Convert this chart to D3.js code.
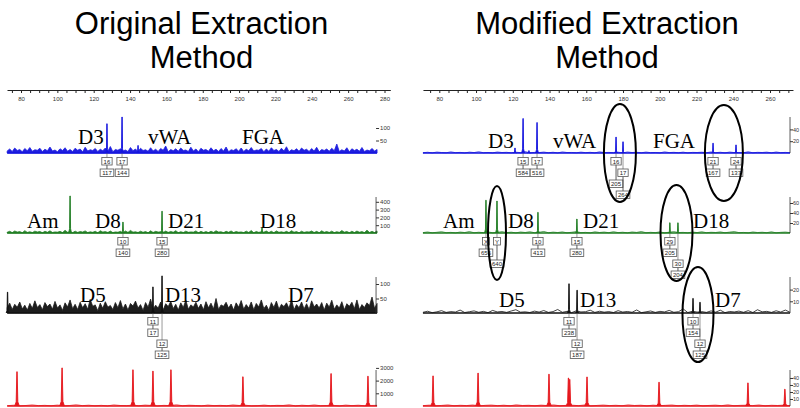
<!DOCTYPE html>
<html><head><meta charset="utf-8">
<script src="https://cdn.jsdelivr.net/npm/d3@7"></script>
<style>body{margin:0;background:#fff}svg{display:block}</style>
</head><body>
<svg id="chart" width="800" height="408"></svg>
<script>
// ---------------- DATA ----------------
const titleLeft = ["Original Extraction", "Method"];
const titleRight = ["Modified Extraction", "Method"];
const sizeLabelsLeft = [80, 100, 120, 140, 160, 180, 200, 220, 240, 260, 280];
const sizeLabelsRight = [80, 100, 120, 140, 160, 180, 200, 220, 240, 260];
const dyeNames = ["blue", "green", "black", "red"];

// peaks: [size (bp), height (RFU)]
const origBluePeaks = [[127.3, 117], [135.6, 144], [144.4, 30]];
const origGreenPeaks = [[107.0, 475], [136.1, 140], [157.6, 280], [212.6, 65]];
const origBlackPeaks = [[72.6, 72], [152.6, 90], [157.6, 128]];
const origRedPeaks = [[77.8, 2700], [102.6, 3000], [141.6, 2850], [152.6, 2750], [162.5, 2850], [202.1, 2300], [250.6, 2550], [270.9, 2350]];
const modBluePeaks = [[121.2, 85], [125.6, 584], [128.8, 40], [133.2, 516], [176.2, 270], [180.0, 190], [229.0, 167], [241.5, 137]];
const modGreenPeaks = [[105.4, 656], [111.4, 640], [133.7, 413], [154.9, 280], [205.5, 205], [209.9, 204]];
const modBlackPeaks = [[150.6, 250], [155.0, 195], [218.1, 125], [221.9, 92]];
const modRedPeaks = [[76.6, 430], [101.1, 470], [139.7, 455], [150.3, 400], [151.0, 380], [160.4, 415], [199.6, 340], [248.0, 330], [268.1, 240]];

// baseline noise (RFU)
const origBlueNoise = [8,16,6,20,10,14,5,18,9,22,7,13,11,19,6,15,9,24,8,12,5,17,10,21,7,14,6,19,11,16,5,23,8,13,10,18,6,15,9,20,7,26,5,14,11,17,8,12,6,22,9,16,5,19,10,13,7,21,8,15,6,18,11,28,5,14,9,17,7,20,10,12,6,23,8,16,5,19,11,14,7,21,9,15,6,18,8,24,5,13,10,17,7,20,6,15,9,22,8,12,11,18,5,16,7,21,10,14,6,19,8,25,5,13,9,17,7,20,11,15,6,18,8,23,5,14,10,16,7,19,9,36,6,13,8,21,5,17,10,15,7,22,6,12,9,18,8,14];
const origGreenNoise = [10,22,5,26,12,18,4,30,8,16,6,24,13,20,3,23,9,28,7,14,11,21,5,34,10,17,4,24,8,19,12,27,6,15,9,22,3,29,12,18,7,25,5,14,10,21,4,26,8,33,11,16,6,23,9,19,3,28,7,21,12,15,5,25,8,20,10,30,4,17,6,24,9,14,11,27,3,21,7,18,5,23,8,29,12,16,4,22,9,26,6,19,10,14,5,24,7,31,3,20,8,17,11,25,6,22,4,27,9,15,7,21,5,30,10,18,3,23,8,16,12,26,6,21,4,28,9,19,7,24,5,17,8,31,11,20,3,23,6,25,10,18,5,36,7,21,6,27];
const origBlackNoise = [18,34,12,30,20,38,14,27,10,33,16,42,19,29,11,36,22,31,13,40,17,28,9,35,21,45,15,30,12,37,18,32,13,47,23,28,8,34,16,39,20,26,12,36,18,43,14,31,10,33,24,41,17,29,9,36,20,48,13,27,17,38,11,32,22,40,15,30,10,35,19,44,13,28,21,37,16,31,11,39,18,34,14,50,12,28,23,37,17,31,10,35,20,43,13,29,17,38,11,33,21,45,15,27,9,36,19,41,13,30,22,35,16,47,11,29,18,38,14,32,12,42,21,31,17,36,10,34,20,44,13,28,17,39,11,32,23,37,15,45,12,29,19,35,26,55,16,33];
const origRedNoise = [20,60,10,40,80,30,50,20,70,10,40,90,30,60,20,50,10,80,40,30,60,20,70,40,10,50,30,90,20,60,40,10,70,30,50,20,80,40,60,10,30,70,20,50,40,90,10,60,30,80,20,40,50,10,70,30,60,20,40,50];
const modBlueNoise = [5,12,3,15,8,4,18,6,10,2,14,7,20,5,9,3,16,8,11,4,13,6,22,3,10,7,15,5,12,2,17,8,9,4,14,6,11,3,19,7,10,5,13,2,16,8,12,4,15,6,9,3,18,7,11,5,14,2,10,8,13,4,17,6,12,3,15,7,9,5,20,4,11,8,14,3,16,6,10,5];
const modGreenNoise = [8,20,4,14,25,6,12,3,18,9,28,5,15,7,22,4,11,26,8,16,3,19,10,24,6,13,30,5,17,9,21,4,14,27,7,12,3,23,10,18,6,25,8,15,4,20,11,29,5,13,7,22,3,16,26,9,12,4,19,8,24,6,14,10,21,5,17,28,7,11,3,20,9,15,6,23,4,13,18,8];
const modBlackNoise = [6,15,3,10,20,5,12,8,25,4,11,18,6,14,3,22,9,13,5,17,28,7,10,4,16,8,21,5,12,30,6,14,3,19,9,11,24,5,15,7,12,4,20,8,13,6,26,3,10,17,5,14,9,22,6,11,35,4,15,8,12,5,18,7,24,3,13,9,16,6,20,4,28,10,14,5,19,8,25,6];
const modRedNoise = [5,12,3,8,15,4,10,6,14,2,9,13,5,11,3,16,7,10,4,12,6,15,3,9,11,5,14,2,8,13,6,10,4,15,7,11,3,12,5,9,14,4,10,6,13,3,8,12,5,16,4,9,11,6,14,3,10,7,12,5];

// y-axis tick values (RFU) per trace, and the tick labels as printed
const origYTicks = [[50, 100], [100, 200, 300, 400], [50, 100], [1000, 2000, 3000]];
const origYTickLabels = [["50", "100"], ["100", "200", "300", "400"], ["50", "100"], ["1000", "2000", "3000"]];
const modYTicks = [[200, 400], [200, 400, 600], [100, 200], [100, 200, 300, 400]];
const modYTickLabels = [["20", "40"], ["20", "40", "60"], ["10", "20"], ["10", "20", "30", "40"]];
// y-axis maxima (RFU at 40 px above baseline)
const origYMax = [160, 513, 138, 3150];
const modYMax = [678, 800, 342, 571];

// locus names: [dye index, name, start size]
const origLoci = [[0,"D3",111.4],[0,"vWA",149.9],[0,"FGA",201.6],[1,"Am",83.3],[1,"D8",120.7],[1,"D21",160.9],[1,"D18",211.5],[2,"D5",112.5],[2,"D13",159.2],[2,"D7",226.9]];
const modLoci = [[0,"D3",106.5],[0,"vWA",141.9],[0,"FGA",196.3],[1,"Am",82.0],[1,"D8",117.4],[1,"D21",158.2],[1,"D18",218.1],[2,"D5",112.5],[2,"D13",156.6],[2,"D7",230.1]];

// allele call boxes: [dye, size, allele, height label, allele row, height row]
const origCalls = [[0,127.3,"16","117",0,1],[0,135.6,"17","144",0,1],[1,136.1,"10","140",0,1],[1,157.6,"15","280",0,1],[2,152.6,"11","17",0,1],[2,157.6,"12","125",2,3]];
const modCalls = [[0,125.6,"15","584",0,1],[0,133.2,"17","516",0,1],[0,176.2,"16","205",0,2],[0,180.0,"17","264",1,3],[0,229.0,"21","167",0,1],[0,241.5,"24","137",0,1],
  [1,105.4,"X","656",0,1],[1,111.4,"Y","640",0,2],[1,133.7,"10","413",0,1],[1,154.9,"15","280",0,1],[1,205.5,"29","205",0,1],[1,209.9,"30","204",2,3],
  [2,150.6,"11","238",0,1],[2,155.0,"12","187",2,3],[2,218.1,"10","154",0,1],[2,221.9,"12","125",2,3]];

// highlighted regions on the modified panel: [dye, centre size]
const modCircles = [[0,178.3],[0,234.9],[1,111.4],[1,209.1],[2,220.8]];

// ---------------- DRAWING ----------------
const svg = d3.select("#chart");
const colors = {blue:"#1414de", green:"#1f7d22", black:"#111111", red:"#e5161c"};
const baselines = [153, 233, 313, 406];
const labelBaselines = [[144, 228, 302], [148, 228, 306.5]];
const rowOffsets = [4.5, 16, 27, 38];
const sans = "Liberation Sans, Arial, sans-serif";

const panels = [
  {x: d3.scaleLinear().domain([80, 280]).range([21, 384.5]), ruler:[72.3, 283.2], trace:[72.4, 275.9],
   title: titleLeft, cx: 201.5, sizeLabels: sizeLabelsLeft,
   peaks:[origBluePeaks, origGreenPeaks, origBlackPeaks, origRedPeaks],
   noise:[origBlueNoise, origGreenNoise, origBlackNoise, origRedNoise],
   yTicks: origYTicks, yLabels: origYTickLabels, yMax: origYMax, loci: origLoci, calls: origCalls, circles: [], lab: labelBaselines[0]},
  {x: d3.scaleLinear().domain([80, 260]).range([439.3, 770]), ruler:[71.1, 272.5], trace:[71.1, 270.9],
   title: titleRight, cx: 607, sizeLabels: sizeLabelsRight,
   peaks:[modBluePeaks, modGreenPeaks, modBlackPeaks, modRedPeaks],
   noise:[modBlueNoise, modGreenNoise, modBlackNoise, modRedNoise],
   yTicks: modYTicks, yLabels: modYTickLabels, yMax: modYMax, loci: modLoci, calls: modCalls, circles: modCircles, lab: labelBaselines[1]}
];

function peakShape(bp, h, w) {
  return [[bp - w, 0], [bp - w * 0.35, h * 0.12], [bp - 0.08, h], [bp + 0.08, h], [bp + w * 0.35, h * 0.12], [bp + w, 0]];
}

panels.forEach((p, pi) => {
  const g = svg.append("g");
  // title
  p.title.forEach((t, i) => {
    g.append("text").attr("x", p.cx).attr("y", i === 0 ? 33.5 : 68).attr("text-anchor", "middle")
      .attr("font-family", sans).attr("font-size", 31).attr("fill", "#000").text(t);
  });

  // size ruler
  const rx = p.x.copy().domain(p.ruler).range(p.ruler.map(p.x));
  const ticks = d3.range(Math.ceil(p.ruler[0] / 5) * 5, p.ruler[1], 5);
  const ax = d3.axisBottom(rx).tickValues(ticks).tickSize(3).tickSizeOuter(0)
    .tickFormat(d => p.sizeLabels.includes(d) ? String(d) : "");
  const ag = g.append("g").attr("transform", "translate(0,90)").call(ax);
  ag.select(".domain").attr("stroke", "#222").attr("stroke-width", 1.2);
  ag.selectAll(".tick line").attr("stroke", "#222");
  ag.selectAll(".tick text").attr("font-size", 6).attr("font-family", sans).attr("fill", "#333").attr("dy", "0.9em");

  // traces
  dyeNames.forEach((dye, di) => {
    const col = colors[dye];
    const base = baselines[di];
    const y = d3.scaleLinear().domain([0, p.yMax[di]]).range([base, base - 40]);
    const line = d3.line().x(d => p.x(d[0])).y(d => y(d[1]));
    const area = d3.area().x(d => p.x(d[0])).y0(y(0)).y1(d => y(d[1]));
    // baseline noise
    const nz = p.noise[di];
    const step = (p.trace[1] - p.trace[0]) / (nz.length - 1);
    const npts = nz.map((v, i) => [p.trace[0] + i * step, v]);
    if (pi === 0 && dye !== "red") {
      g.append("path").attr("d", area(npts)).attr("fill", col).attr("stroke", col).attr("stroke-width", 0.8).attr("opacity", 0.95);
    } else {
      g.append("path").attr("d", line(npts)).attr("fill", "none").attr("stroke", col).attr("stroke-width", 0.8);
    }
    g.append("path").attr("d", line([[p.trace[0], 0], [p.trace[1], 0]])).attr("fill", "none").attr("stroke", col).attr("stroke-width", pi === 0 ? 1.6 : 1.3);
    // peaks
    const w = dye === "red" ? 1.3 : 0.75;
    p.peaks[di].forEach(pk => {
      g.append("path").attr("d", line(peakShape(pk[0], pk[1], w)))
        .attr("fill", col).attr("stroke", col).attr("stroke-width", 0.9).attr("stroke-linejoin", "round");
    });
    // right-hand y axis
    const axX = p.x(p.trace[1]) + (pi === 0 ? -1 : 0);
    const labels = p.yLabels[di];
    const yaxis = d3.axisRight(y).tickValues(p.yTicks[di]).tickSize(3).tickSizeOuter(0)
      .tickFormat((d, i) => labels[i]);
    const yg = g.append("g").attr("transform", `translate(${axX},0)`).call(yaxis);
    yg.select(".domain").attr("d", `M0,${base}V${base - 36}`).attr("stroke", "#333").attr("stroke-width", 0.8)
      .attr("opacity", pi === 0 && di === 0 ? 0 : 1);
    yg.selectAll(".tick line").attr("stroke", "#333");
    yg.selectAll(".tick text").attr("font-size", pi === 0 ? 6 : 5.5).attr("font-family", sans).attr("fill", "#333").attr("x", pi === 0 ? 4 : 3);
  });

  // locus labels
  p.loci.forEach(l => {
    g.append("text").attr("x", p.x(l[2])).attr("y", p.lab[l[0]])
      .attr("font-family", "Liberation Serif, Times New Roman, serif").attr("font-size", 21).attr("fill", "#000").text(l[1]);
  });

  // allele call boxes
  p.calls.forEach(c => {
    const base = baselines[c[0]];
    const cx = p.x(c[1]);
    const boxes = [[c[2], c[4]], [c[3], c[5]]];
    const ya = base + rowOffsets[c[4]], yh = base + rowOffsets[c[5]];
    g.append("line").attr("x1", cx).attr("x2", cx).attr("y1", base).attr("y2", ya).attr("stroke", "#555").attr("stroke-width", 0.6);
    g.append("line").attr("x1", cx).attr("x2", cx).attr("y1", ya + 7.5).attr("y2", yh).attr("stroke", "#333").attr("stroke-width", 0.8);
    boxes.forEach(b => {
      const wdt = b[0].length * 3.4 + 3.5;
      const top = base + rowOffsets[b[1]];
      g.append("rect").attr("x", cx - wdt / 2).attr("y", top).attr("width", wdt).attr("height", 7.5)
        .attr("fill", "#fff").attr("stroke", "#555").attr("stroke-width", 0.8);
      g.append("text").attr("x", cx).attr("y", top + 6).attr("text-anchor", "middle")
        .attr("font-family", sans).attr("font-size", 6).attr("fill", "#222").text(b[0]);
    });
  });

  // highlight ellipses
  p.circles.forEach(c => {
    const base = baselines[c[0]];
    let r = [16, 48];
    if (c[0] === 0 && c[1] < 200) r = [16, 49];
    if (c[0] === 0 && c[1] > 200) r = [19, 48];
    if (c[0] === 1 && c[1] < 150) r = [9, 47];
    if (c[0] === 2) r = [15.5, 47.5];
    g.append("ellipse").attr("cx", p.x(c[1])).attr("cy", base + (c[0] === 2 ? 1.5 : 0))
      .attr("rx", r[0]).attr("ry", r[1]).attr("fill", "none").attr("stroke", "#000").attr("stroke-width", 2);
  });
});
</script>
</body></html>
